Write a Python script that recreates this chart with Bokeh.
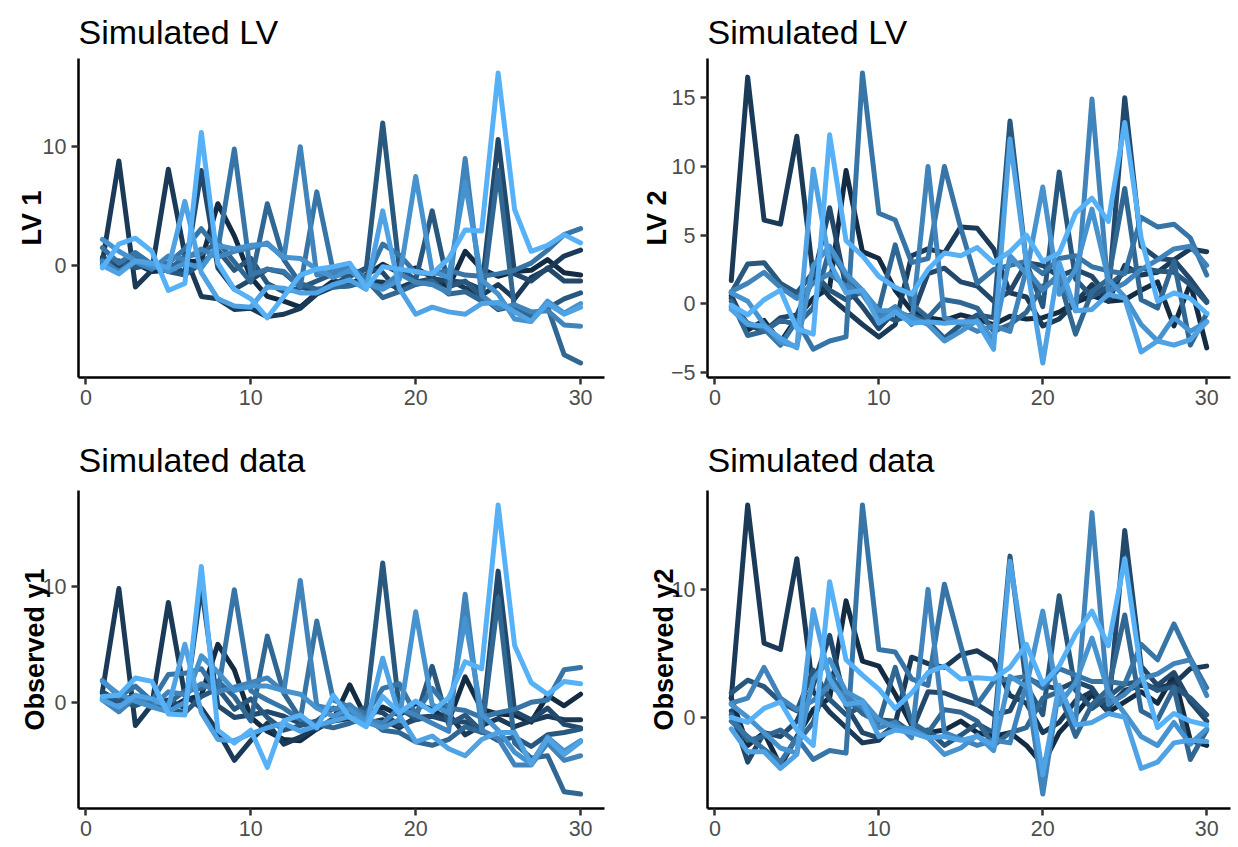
from bokeh.plotting import figure
from bokeh.layouts import column, row
from bokeh.models import Range1d, FixedTicker, ColumnDataSource
from bokeh.embed import file_html
from bokeh.resources import INLINE

time = [1, 2, 3, 4, 5, 6, 7, 8, 9, 10, 11, 12, 13, 14, 15,
        16, 17, 18, 19, 20, 21, 22, 23, 24, 25, 26, 27, 28, 29, 30]

series_colors = ["#132B43", "#1A3A57", "#22496B", "#29587F", "#316793",
                 "#3875A7", "#4084BB", "#4793CF", "#4FA2E3", "#56B1F7"]

x_ticks = [0, 10, 20, 30]

# Simulated LV 1
lv1_series = [
    [0.5, -0.3, 0.2, -0.5, -0.4, 0.3, 0.4, 5.2, 2.5, -1.0, -2.6, -3.0, -3.5, -2.3, -1.3, -1.6, -0.8, 0.1, -0.6, -0.2, -1.0, -1.8, 1.2, -0.3, -0.9, -0.5, -0.4, 0.5, -0.6, -0.8],
    [0.3, 8.8, -1.8, -0.4, 8.1, 0.9, -2.6, -2.8, -3.7, -3.6, -4.3, -4.1, -3.6, -2.4, -1.8, -1.7, -1.3, -1.4, -1.9, -1.3, -1.6, -1.2, -1.9, -2.5, -1.6, -2.8, -1.0, -0.3, 0.8, 1.3],
    [0.7, 0.0, 0.5, -0.2, 0.2, -0.6, 8.0, -0.2, -2.0, -1.2, -0.3, -0.6, -1.8, -2.2, -1.6, -0.9, -0.2, -0.6, -2.2, -1.4, -1.1, -1.3, -1.4, -2.0, 10.6, -0.7, -1.3, -0.2, -1.3, -1.3],
    [0.3, 0.4, -0.2, 0.1, -0.5, -0.8, 0.2, 1.3, -0.4, 0.6, -1.5, -2.2, -1.9, -1.3, -0.7, -0.9, -0.3, 12.0, -0.2, -1.2, 4.6, -1.8, -1.3, -2.6, -3.7, -3.4, -4.2, -3.6, -2.8, -2.3],
    [0.1, -0.6, 0.6, 0.1, -0.4, 0.8, 1.0, 2.0, 0.3, -1.4, 5.2, 0.5, -1.5, -2.0, -1.8, -1.7, -1.2, -2.7, -2.2, -1.6, -1.3, -2.4, -2.2, -3.0, 8.0, -3.8, -4.3, -3.5, -7.5, -8.2],
    [1.5, 0.2, 1.1, 0.1, 0.2, 1.4, 3.1, 1.3, 9.8, -0.8, -0.3, -0.5, -1.8, 6.2, -0.5, -0.1, -1.1, 1.8, 0.9, -0.6, -0.7, -0.4, -0.8, -0.9, -0.7, -0.4, 0.2, 1.3, 2.6, 3.1],
    [0.4, -0.5, 0.3, -0.3, 0.8, 0.5, 1.4, 0.7, 1.2, 1.5, 1.9, 0.6, 10.0, -0.8, -0.5, -0.3, -1.5, -1.8, -0.7, -1.4, -1.6, -2.3, 9.0, -2.5, -3.6, -3.3, -3.9, -3.8, -5.0, -5.1],
    [2.2, 1.2, 0.4, 0.0, -0.5, 0.2, -0.2, 1.7, 1.4, 1.7, 1.8, 0.7, 0.6, -0.3, -1.0, -0.4, -1.5, -2.0, -1.2, 7.5, -0.5, -1.0, 7.0, -1.2, -2.4, -4.5, -4.7, -3.0, -4.0, -3.2],
    [0.0, -0.7, 0.4, 0.2, -0.2, 5.4, -0.6, -2.8, -3.4, -3.5, -1.8, -1.9, -2.3, -2.3, -1.6, -1.2, -2.0, 4.6, -1.9, -4.1, -3.5, -3.9, -4.1, -3.2, -3.1, -3.9, -4.7, -3.2, -4.1, -3.5],
    [-0.2, 1.8, 2.3, 1.2, -2.1, -1.5, 11.2, 0.2, -2.0, -2.8, -4.4, -2.6, -0.8, -0.3, -0.1, 0.2, -1.9, -0.1, -0.3, -0.5, -0.7, 0.6, 3.0, 2.9, 16.2, 4.7, 1.2, 1.7, 2.6, 1.9],
]

# Simulated LV 2
lv2_series = [
    [0.6, -1.9, -1.2, -2.8, -1.0, 0.4, 1.2, 9.7, 3.8, 3.3, 1.0, -0.5, -1.0, -1.2, -0.8, -1.1, -1.5, -0.9, -1.1, -1.0, -0.6, 0.1, 0.6, 0.2, 0.3, 1.0, 1.6, -1.6, 1.5, -3.2],
    [1.7, 16.5, 6.1, 5.8, 12.2, 2.0, 0.5, -0.5, -1.5, -2.4, -1.5, 3.5, 4.0, 3.7, 5.6, 5.5, 4.0, 0.8, 0.5, -1.6, -1.1, 0.1, 1.4, 0.2, 2.8, 2.1, 2.3, 3.2, 4.0, 3.8],
    [0.4, -1.5, -2.0, -1.0, -0.8, 1.8, 7.0, 1.2, -0.2, -1.8, -0.5, -1.0, 2.2, 2.6, 1.6, 1.3, 0.2, 0.9, 3.0, 2.8, 2.0, 2.5, 2.0, 0.5, 15.0, 4.2, 3.3, 3.2, 1.8, 0.2],
    [0.8, 2.9, 3.0, 1.5, 0.8, 2.3, 1.0, 0.3, 0.9, -0.6, -1.2, -0.8, -1.3, -2.5, -1.5, -0.8, -1.0, 13.3, 3.0, -0.2, 9.6, 1.8, 0.5, 1.3, 2.3, 2.6, 2.4, 2.3, 1.4, 0.1],
    [0.2, -2.3, -2.0, -1.2, -1.5, -0.3, 4.0, 2.0, 0.8, -0.4, 4.3, 0.0, -1.0, 0.3, 0.1, -0.3, -2.0, -1.5, -0.6, 1.3, 1.8, -2.2, 0.9, 1.8, 8.4, 0.3, -0.3, 3.1, -3.0, -0.7],
    [-0.2, -1.4, -1.8, -3.0, -1.2, -3.3, -2.7, -2.4, 16.8, 6.6, 6.1, 3.0, 3.3, 10.0, 5.5, 1.5, 2.5, 2.8, 3.1, 2.2, 3.3, 3.5, 2.7, 2.4, 2.2, 6.3, 5.6, 5.8, 4.8, 2.1],
    [0.9, 1.5, 2.3, 1.2, 0.4, 1.5, 2.2, 1.3, 0.7, -1.0, -0.2, -1.5, 10.0, -1.0, -1.4, -2.0, -1.6, -2.0, 2.5, 1.0, 2.2, -0.5, 14.9, 0.9, 1.5, 2.5, 3.2, 4.0, 4.2, 2.8],
    [0.8, 0.2, -1.5, -2.8, -3.1, 2.8, 4.2, 2.2, 1.0, -0.5, -0.5, -1.0, -1.5, -2.7, -2.0, -1.2, -2.6, 3.5, 2.2, 8.5, 0.7, 2.5, 6.9, 1.8, 0.5, -1.5, -2.7, -1.0, -2.0, -1.3],
    [-0.4, -1.5, -1.6, -2.5, -3.2, 9.8, 3.0, 0.8, 1.0, -1.4, -0.6, -1.4, -1.3, -1.4, -1.3, -1.3, -3.3, 12.0, 3.0, -4.3, 3.0, -0.5, -0.4, 0.7, 0.4, -3.5, -2.7, -3.0, -2.6, -1.3],
    [-0.1, -0.8, 0.3, 1.0, -1.8, -2.2, 12.3, 4.6, 3.5, 2.0, 1.2, 0.7, 2.5, 3.7, 3.5, 4.1, 3.0, 3.8, 5.0, 3.1, 3.7, 6.6, 7.7, 6.0, 13.2, 4.8, 0.2, 0.8, 0.4, -0.7],
]

# Simulated data, observed y1
obs1_series = [
    [0.8, -0.5, 0.4, -0.3, -0.6, 0.2, 0.6, 5.0, 2.8, -1.3, -2.5, -3.2, -3.3, -2.3, -1.5, 1.5, -1.4, -0.4, -1.1, -0.1, -0.6, -1.6, 2.2, -0.6, -1.0, -1.1, -1.7, 0.6, -0.3, 0.7],
    [0.9, 9.8, -2.0, -0.2, 8.6, 0.6, -0.5, -2.5, -5.0, -3.3, -1.8, -3.6, -3.0, -2.2, -1.6, -1.4, -1.8, -1.5, -2.2, -1.3, -1.2, -1.0, -2.8, -2.0, -1.4, -2.1, -1.6, -1.2, -1.5, -1.5],
    [0.9, 0.1, 0.6, -0.1, 0.2, -0.5, 10.0, -0.3, -1.3, -1.1, -0.8, -1.2, -1.8, -2.3, -1.4, -1.1, -0.6, -0.9, -2.0, -1.5, -1.2, -1.6, -1.7, -2.3, 11.3, -0.8, -1.5, -0.5, -1.9, -2.2],
    [0.4, 0.2, -0.3, 0.3, -0.6, -0.9, 0.5, 1.2, -0.6, 0.3, -1.3, -2.4, -2.0, -1.6, -0.5, -1.0, -0.4, 12.0, -0.5, -1.4, 3.1, -1.9, -1.1, -2.5, -3.3, -3.0, -3.8, -2.8, -2.6, -2.3],
    [0.3, -0.8, 0.4, -0.2, -0.1, 1.0, 1.2, 1.8, 0.5, -1.6, 5.7, 0.8, -1.4, -1.9, -2.2, -1.8, -1.3, -2.4, -2.6, -3.4, -3.7, -3.2, -2.1, -2.6, 9.0, -3.5, -4.8, -4.6, -7.7, -7.9],
    [1.9, 0.5, 1.4, 0.1, 2.4, 2.5, 2.9, 0.8, 9.7, 1.0, 0.2, -0.5, -1.5, 7.0, 0.2, -0.4, -1.0, 1.2, 1.6, -1.0, 1.2, -0.5, -0.7, -1.3, -0.9, -0.6, 0.0, 0.2, 2.8, 3.0],
    [0.2, -0.8, 0.5, -0.4, 0.9, 0.7, 1.6, 0.9, 1.3, 1.7, 2.1, 0.9, 10.5, -0.3, -0.6, -0.2, -1.5, -1.8, -0.5, -1.1, -1.8, -2.5, 9.3, -2.4, -3.1, -5.4, -5.4, -3.5, -5.0, -4.6],
    [1.8, 0.7, 0.1, -0.4, -0.8, 0.0, 4.0, 2.6, 1.0, 1.4, 1.4, 1.0, 0.7, -0.5, -1.2, -0.6, -1.7, -2.2, -1.5, 7.8, -0.2, -0.9, 7.2, -1.0, -2.4, -4.3, -5.3, -3.0, -4.2, -3.3],
    [0.2, -0.4, 0.6, 0.3, -0.4, 5.0, -0.9, -3.2, -3.3, -2.7, -2.2, -1.8, -2.5, -2.0, -1.6, -1.2, -2.0, 3.8, -1.1, -3.4, -2.9, -4.0, -4.6, -3.2, -2.6, -2.6, -5.3, -3.1, -4.5, -3.4],
    [0.5, 0.6, 2.1, 1.8, -1.0, -1.1, 11.7, -2.4, -3.5, -2.4, -5.6, -1.6, -1.1, -2.2, 0.6, -1.3, -2.1, 0.5, -0.9, 0.1, -0.8, 0.4, 3.5, 2.9, 17.0, 4.9, 1.7, 0.7, 1.8, 1.6],
]

# Simulated data, observed y2
obs2_series = [
    [1.5, -2.2, -1.2, -3.8, -1.5, 0.6, 1.5, 9.1, 4.4, 4.0, 1.8, -0.6, -1.2, -1.0, -0.3, -1.2, -1.5, -1.2, -2.2, -3.7, -1.2, 0.2, 1.8, 0.4, 1.2, 2.0, 1.1, 3.3, -1.8, -2.2],
    [1.5, 16.6, 5.8, 5.3, 12.4, 2.0, 0.4, -0.8, -2.0, -1.8, -0.5, 4.7, 4.2, 3.9, 4.9, 5.2, 4.4, 1.7, 1.1, -1.2, -0.4, 1.3, 2.0, 0.8, 2.1, 2.5, 2.3, 2.6, 3.8, 4.0],
    [0.5, -3.5, -1.2, -1.5, -0.3, 2.5, 6.4, 0.9, -1.2, -1.6, -0.6, -1.1, 2.0, 1.9, 1.4, 1.0, 0.2, 0.5, 3.1, 2.5, 2.2, 2.8, 2.3, 0.4, 14.6, 4.0, 2.5, 3.5, 1.2, -0.3],
    [1.9, 2.9, 2.4, 1.2, 0.5, 3.7, 1.4, 0.2, 0.9, -0.2, -0.3, -1.2, -1.0, -2.2, -1.4, -0.5, -1.2, 12.6, 2.5, 0.2, 9.5, 2.1, 0.7, 1.6, 2.6, 2.8, 2.1, 2.4, 1.5, 0.2],
    [0.2, -1.8, -1.5, -1.0, -2.0, -0.4, 3.4, 1.5, 0.3, -0.4, 3.9, -0.4, -1.2, 0.6, 0.4, -0.3, -2.2, -1.2, -0.8, 1.5, 2.0, -1.5, 1.0, 2.2, 8.0, 0.5, -0.2, 2.3, -3.3, -1.0],
    [-0.3, -1.5, -2.5, -3.5, -1.6, -3.3, -2.6, -2.8, 16.6, 5.3, 5.1, 3.0, 2.5, 10.4, 5.6, 1.0, 2.8, 3.0, 3.2, 2.3, 3.8, 3.3, 2.8, 2.8, 2.6, 5.7, 4.5, 7.3, 4.6, 2.3],
    [1.1, 1.5, 3.9, 1.5, 0.6, 1.3, 2.5, 1.6, 0.8, -0.8, -0.4, -1.6, 10.0, -1.2, -1.7, -2.2, -1.8, -2.0, 2.6, -6.0, 2.3, -0.4, 16.0, 1.0, 1.8, 3.0, 3.4, 4.2, 4.5, 1.7],
    [1.0, 0.0, -1.2, -2.4, -2.8, 3.0, 4.5, 2.0, 1.3, -0.2, -0.8, -0.9, -1.6, -2.9, -2.4, -1.4, -2.6, 3.2, 2.4, 8.3, 1.0, 2.7, 6.2, 2.0, 0.3, -1.5, -2.2, -0.4, -2.1, -0.9],
    [-0.9, -2.7, -2.7, -4.0, -2.9, 8.4, 3.0, 1.0, 1.2, -1.5, -1.0, -1.2, -1.6, -1.5, -1.8, -1.5, -2.2, 12.2, 4.0, -4.5, 2.5, -0.6, -0.4, 0.3, 0.0, -4.0, -3.5, -2.0, -1.8, -1.9],
    [0.0, -0.4, 0.7, 1.2, -1.0, -2.2, 10.6, 4.5, 3.3, 2.2, 0.7, 1.9, 3.5, 4.0, 3.0, 3.1, 3.0, 3.9, 5.7, 2.6, 4.0, 6.5, 8.3, 5.6, 12.4, 3.5, -0.8, 0.3, -0.3, -0.6],
]

FONT = "Liberation Sans"


def padded(lo, hi, frac=0.05):
    span = hi - lo
    return lo - frac * span, hi + frac * span


def make_panel(title, ylabel, series, yticks, width, height,
               b_left, b_right, b_top, b_bottom, label_standoff, title_standoff):
    all_vals = [v for s in series for v in s]
    y_lo, y_hi = padded(min(all_vals), max(all_vals))
    x_lo, x_hi = padded(min(time), max(time))
    p = figure(width=width, height=height, output_backend="svg",
               toolbar_location=None,
               x_range=Range1d(x_lo, x_hi), y_range=Range1d(y_lo, y_hi),
               min_border_left=b_left, min_border_right=b_right,
               min_border_top=b_top, min_border_bottom=b_bottom,
               title=title)
    p.outline_line_color = None
    p.background_fill_color = "white"
    p.border_fill_color = "white"
    p.xgrid.visible = False
    p.ygrid.visible = False

    p.title.text_font = FONT
    p.title.text_font_size = "34px"
    p.title.text_font_style = "normal"
    p.title.text_color = "black"
    p.title.align = "left"
    p.title.vertical_align = "bottom"
    p.title.standoff = title_standoff

    for ax, ticks in ((p.xaxis[0], x_ticks), (p.yaxis[0], yticks)):
        ax.ticker = FixedTicker(ticks=ticks, minor_ticks=[])
        ax.axis_line_color = "black"
        ax.axis_line_width = 2.5
        ax.major_tick_line_color = "#333333"
        ax.major_tick_line_width = 2.5
        ax.major_tick_out = 7
        ax.major_tick_in = 0
        ax.minor_tick_out = 0
        ax.minor_tick_in = 0
        ax.major_label_text_font = FONT
        ax.major_label_text_font_size = "21.5px"
        ax.major_label_text_color = "#4D4D4D"
        ax.major_label_standoff = 5

    p.yaxis[0].axis_label = ylabel
    p.yaxis[0].axis_label_text_font = FONT
    p.yaxis[0].axis_label_text_font_size = "27px"
    p.yaxis[0].axis_label_text_font_style = "bold"
    p.yaxis[0].axis_label_text_color = "black"
    p.yaxis[0].axis_label_standoff = label_standoff

    for s, c in zip(series, series_colors):
        src = ColumnDataSource(dict(x=time, y=s))
        p.line("x", "y", source=src, line_color=c, line_width=5,
               line_join="round", line_cap="round")
    return p


p1 = make_panel("Simulated LV", "LV 1", lv1_series, [0, 10],
                620, 420, 78, 16, 58, 43, -7, 16)
p2 = make_panel("Simulated LV", "LV 2", lv2_series, [-5, 0, 5, 10, 15],
                618, 420, 87, 8, 58, 43, -4, 16)
p3 = make_panel("Simulated data", "Observed y1", obs1_series, [0, 10],
                620, 427, 78, 16, 70, 39, -10, 24)
p4 = make_panel("Simulated data", "Observed y2", obs2_series, [0, 10],
                618, 427, 87, 8, 70, 39, -10, 24)

layout = column(row(p1, p2), row(p3, p4))
open("out.html", "w").write(file_html(layout, INLINE))
